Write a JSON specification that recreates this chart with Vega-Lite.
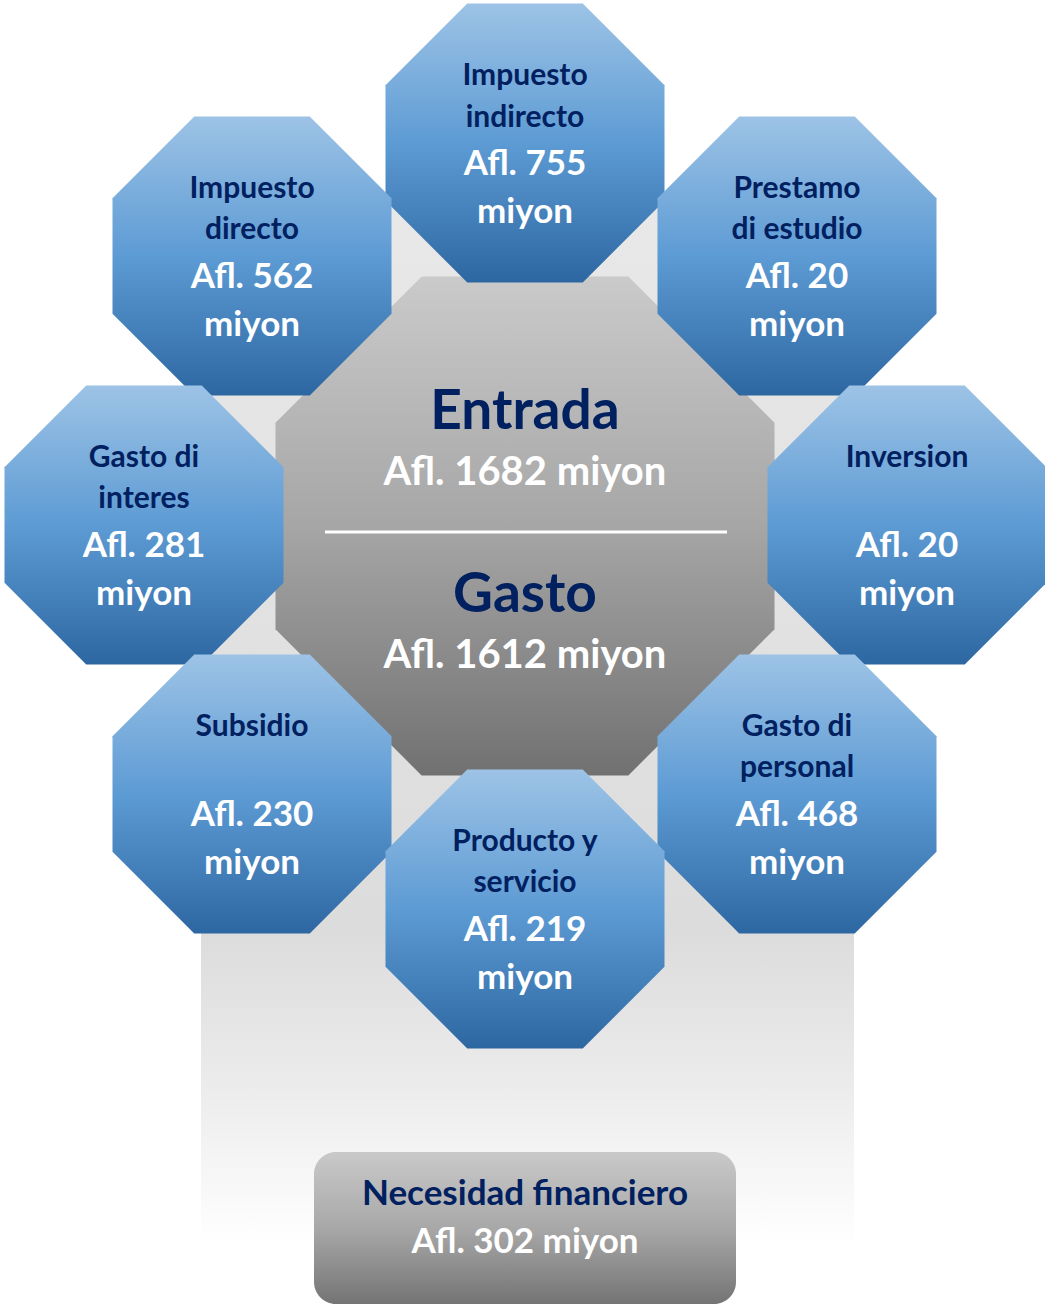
{
  "$schema": "https://vega.github.io/schema/vega-lite/v6.json",
  "width": 1045,
  "height": 1305,
  "padding": 0,
  "autosize": {"type": "none"},
  "background": "white",
  "config": {"view": {"stroke": null}},
  "datasets": {
    "backdrop": [{"x": 201, "x2": 854, "y": 205, "y2": 1245}],
    "center": [{"name": "Entrada / Gasto", "x": 525, "y": 526}],
    "octagons": [
      {"name": "Impuesto indirecto", "x": 525, "y": 143},
      {"name": "Impuesto directo", "x": 252, "y": 256},
      {"name": "Prestamo di estudio", "x": 797, "y": 256},
      {"name": "Gasto di interes", "x": 144, "y": 525},
      {"name": "Inversion", "x": 907, "y": 525},
      {"name": "Subsidio", "x": 252, "y": 794},
      {"name": "Gasto di personal", "x": 797, "y": 794},
      {"name": "Producto y servicio", "x": 525, "y": 909}
    ],
    "divider": [{"x": 325, "x2": 727, "y": 532}],
    "box": [{"name": "Necesidad financiero", "x": 314, "x2": 736, "y": 1152, "y2": 1304}],
    "texts": [
      {"label": "Impuesto", "kind": "title", "x": 525, "y": 85},
      {"label": "indirecto", "kind": "title", "x": 525, "y": 127},
      {"label": "Afl. 755", "kind": "value", "x": 525, "y": 175},
      {"label": "miyon", "kind": "value", "x": 525, "y": 223},
      {"label": "Impuesto", "kind": "title", "x": 252, "y": 198},
      {"label": "directo", "kind": "title", "x": 252, "y": 239},
      {"label": "Afl. 562", "kind": "value", "x": 252, "y": 288},
      {"label": "miyon", "kind": "value", "x": 252, "y": 336},
      {"label": "Prestamo", "kind": "title", "x": 797, "y": 198},
      {"label": "di estudio", "kind": "title", "x": 797, "y": 239},
      {"label": "Afl. 20", "kind": "value", "x": 797, "y": 288},
      {"label": "miyon", "kind": "value", "x": 797, "y": 336},
      {"label": "Gasto di", "kind": "title", "x": 144, "y": 467},
      {"label": "interes", "kind": "title", "x": 144, "y": 508},
      {"label": "Afl. 281", "kind": "value", "x": 144, "y": 557},
      {"label": "miyon", "kind": "value", "x": 144, "y": 605},
      {"label": "Inversion", "kind": "title", "x": 907, "y": 467},
      {"label": "Afl. 20", "kind": "value", "x": 907, "y": 557},
      {"label": "miyon", "kind": "value", "x": 907, "y": 605},
      {"label": "Subsidio", "kind": "title", "x": 252, "y": 736},
      {"label": "Afl. 230", "kind": "value", "x": 252, "y": 826},
      {"label": "miyon", "kind": "value", "x": 252, "y": 874},
      {"label": "Gasto di", "kind": "title", "x": 797, "y": 736},
      {"label": "personal", "kind": "title", "x": 797, "y": 777},
      {"label": "Afl. 468", "kind": "value", "x": 797, "y": 826},
      {"label": "miyon", "kind": "value", "x": 797, "y": 874},
      {"label": "Producto y", "kind": "title", "x": 525, "y": 851},
      {"label": "servicio", "kind": "title", "x": 525, "y": 892},
      {"label": "Afl. 219", "kind": "value", "x": 525, "y": 941},
      {"label": "miyon", "kind": "value", "x": 525, "y": 989},
      {"label": "Entrada", "kind": "head", "x": 525, "y": 429},
      {"label": "Afl. 1682 miyon", "kind": "headvalue", "x": 525, "y": 485},
      {"label": "Gasto", "kind": "head", "x": 525, "y": 612},
      {"label": "Afl. 1612 miyon", "kind": "headvalue", "x": 525, "y": 668},
      {"label": "Necesidad financiero", "kind": "boxtitle", "x": 525, "y": 1205},
      {"label": "Afl. 302 miyon", "kind": "boxvalue", "x": 525, "y": 1253}
    ]
  },
  "encoding": {
    "x": {"field": "x", "type": "quantitative", "scale": {"domain": [0, 1045], "nice": false, "zero": false}, "axis": null},
    "y": {"field": "y", "type": "quantitative", "scale": {"domain": [0, 1305], "reverse": true, "nice": false, "zero": false}, "axis": null}
  },
  "layer": [
    {
      "data": {"name": "backdrop"},
      "mark": {"type": "rect", "fill": {"gradient": "linear", "x1": 0, "y1": 0, "x2": 0, "y2": 1, "stops": [{"offset": 0, "color": "#e8e8e8"}, {"offset": 0.7, "color": "#dcdcdc"}, {"offset": 0.85, "color": "#ececec"}, {"offset": 1, "color": "#ffffff"}]}},
      "encoding": {"x2": {"field": "x2"}, "y2": {"field": "y2"}}
    },
    {
      "data": {"name": "center"},
      "mark": {"type": "point", "shape": "M-0.4142,-1L0.4142,-1L1,-0.4142L1,0.4142L0.4142,1L-0.4142,1L-1,0.4142L-1,-0.4142Z", "size": 249001, "filled": true, "opacity": 1, "strokeWidth": 0, "fill": {"gradient": "linear", "x1": 0, "y1": 0, "x2": 0, "y2": 1, "stops": [{"offset": 0, "color": "#cacaca"}, {"offset": 0.5, "color": "#a6a6a6"}, {"offset": 1, "color": "#717171"}]}}
    },
    {
      "data": {"name": "octagons"},
      "mark": {"type": "point", "shape": "M-0.4142,-1L0.4142,-1L1,-0.4142L1,0.4142L0.4142,1L-0.4142,1L-1,0.4142L-1,-0.4142Z", "size": 77841, "filled": true, "opacity": 1, "strokeWidth": 0, "fill": {"gradient": "linear", "x1": 0, "y1": 0, "x2": 0, "y2": 1, "stops": [{"offset": 0, "color": "#9dc3e6"}, {"offset": 0.5, "color": "#5d9bd4"}, {"offset": 1, "color": "#2d67a2"}]}}
    },
    {
      "data": {"name": "divider"},
      "mark": {"type": "rule", "color": "white", "strokeWidth": 3},
      "encoding": {"x2": {"field": "x2"}}
    },
    {
      "data": {"name": "box"},
      "mark": {"type": "rect", "cornerRadius": 22, "fill": {"gradient": "linear", "x1": 0, "y1": 0, "x2": 0, "y2": 1, "stops": [{"offset": 0, "color": "#c9c9c9"}, {"offset": 0.5, "color": "#a8a8a8"}, {"offset": 1, "color": "#747474"}]}},
      "encoding": {"x2": {"field": "x2"}, "y2": {"field": "y2"}}
    },
    {
      "data": {"name": "texts"},
      "transform": [{"filter": "datum.kind === 'title'"}],
      "mark": {"type": "text", "font": "Lato", "fontWeight": "bold", "fontSize": 30, "color": "#002060", "align": "center", "baseline": "alphabetic"},
      "encoding": {"text": {"field": "label"}}
    },
    {
      "data": {"name": "texts"},
      "transform": [{"filter": "datum.kind === 'value'"}],
      "mark": {"type": "text", "font": "Lato", "fontWeight": "bold", "fontSize": 35, "color": "#ffffff", "align": "center", "baseline": "alphabetic"},
      "encoding": {"text": {"field": "label"}}
    },
    {
      "data": {"name": "texts"},
      "transform": [{"filter": "datum.kind === 'head'"}],
      "mark": {"type": "text", "font": "Lato", "fontWeight": "bold", "fontSize": 55, "color": "#002060", "align": "center", "baseline": "alphabetic"},
      "encoding": {"text": {"field": "label"}}
    },
    {
      "data": {"name": "texts"},
      "transform": [{"filter": "datum.kind === 'headvalue'"}],
      "mark": {"type": "text", "font": "Lato", "fontWeight": "bold", "fontSize": 40, "color": "#ffffff", "align": "center", "baseline": "alphabetic"},
      "encoding": {"text": {"field": "label"}}
    },
    {
      "data": {"name": "texts"},
      "transform": [{"filter": "datum.kind === 'boxtitle'"}],
      "mark": {"type": "text", "font": "Lato", "fontWeight": "bold", "fontSize": 35, "color": "#002060", "align": "center", "baseline": "alphabetic"},
      "encoding": {"text": {"field": "label"}}
    },
    {
      "data": {"name": "texts"},
      "transform": [{"filter": "datum.kind === 'boxvalue'"}],
      "mark": {"type": "text", "font": "Lato", "fontWeight": "bold", "fontSize": 35, "color": "#ffffff", "align": "center", "baseline": "alphabetic"},
      "encoding": {"text": {"field": "label"}}
    }
  ]
}
